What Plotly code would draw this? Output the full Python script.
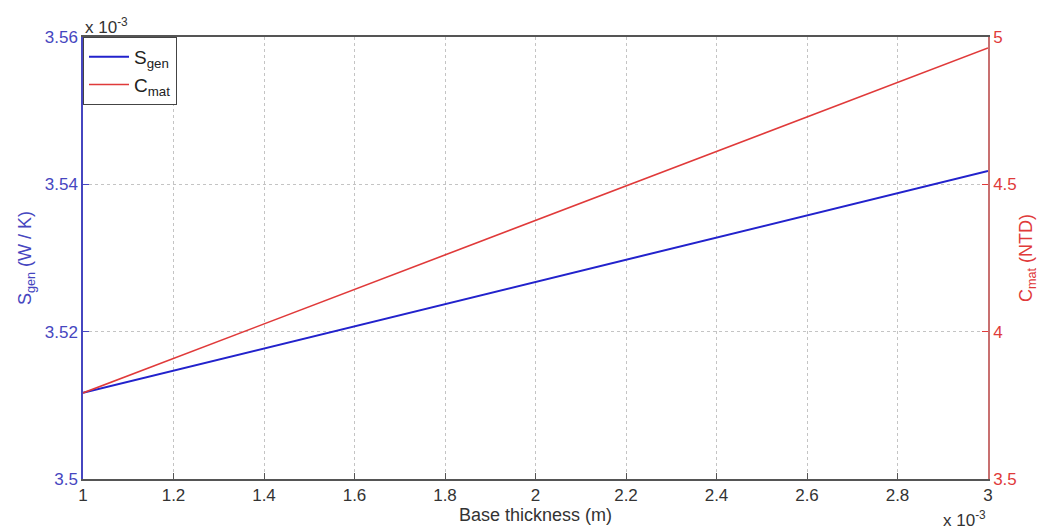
import plotly.graph_objects as go

# Data (x in units of 1e-3 m, S_gen in units of 1e-3 W/K)
thickness = [1.0, 1.2, 1.4, 1.6, 1.8, 2.0, 2.2, 2.4, 2.6, 2.8, 3.0]
s_gen = [3.5117, 3.5147, 3.5177, 3.5207, 3.5237, 3.5267, 3.5298, 3.5328, 3.5358, 3.5388, 3.5418]
c_mat = [3.792, 3.909, 4.026, 4.143, 4.260, 4.378, 4.495, 4.612, 4.729, 4.846, 4.963]

x_ticks = [1, 1.2, 1.4, 1.6, 1.8, 2, 2.2, 2.4, 2.6, 2.8, 3]
left_ticks = [3.5, 3.52, 3.54, 3.56]
right_ticks = [3.5, 4, 4.5, 5]

BLUE = "#2222cc"
BLUE_TXT = "#4646c0"
RED = "#e03a3a"
GRAY = "#555555"
FONT = "Liberation Sans, Arial, sans-serif"

fig = go.Figure()
fig.add_trace(go.Scatter(x=thickness, y=s_gen, mode="lines", name="S<sub>gen</sub>",
                         line=dict(color=BLUE, width=2), yaxis="y"))
fig.add_trace(go.Scatter(x=thickness, y=c_mat, mode="lines", name="C<sub>mat</sub>",
                         line=dict(color=RED, width=1.6), yaxis="y2"))

fig.update_layout(
    width=1045, height=530,
    margin=dict(l=83, r=52, t=37, b=51),
    paper_bgcolor="white", plot_bgcolor="white",
    font=dict(family=FONT, size=17, color="#333333"),
    showlegend=True,
    legend=dict(x=0, y=1, xanchor="left", yanchor="top",
                bgcolor="white", bordercolor="#444444", borderwidth=1,
                font=dict(size=19, color="#222222"), tracegroupgap=0,
                itemwidth=40),
    xaxis=dict(
        range=[1, 3], tickvals=x_ticks, ticktext=[f"{v:g}" for v in x_ticks],
        showgrid=True, gridcolor="#c4c4c4", griddash="dot", gridwidth=1,
        ticks="inside", ticklen=6, tickcolor=GRAY,
        showline=True, linecolor=GRAY, linewidth=1.5, mirror=True,
        zeroline=False,
        tickfont=dict(size=17, color="#333333"),
        title=dict(text="Base thickness (m)", font=dict(size=18, color="#333333"), standoff=0),
    ),
    yaxis=dict(
        range=[3.5, 3.56], tickvals=left_ticks, ticktext=["3.5", "3.52", "3.54", "3.56"],
        showgrid=True, gridcolor="#c4c4c4", griddash="dot", gridwidth=1,
        ticks="inside", ticklen=6, tickcolor=BLUE_TXT,
        showline=True, linecolor=BLUE_TXT, linewidth=1.5,
        zeroline=False,
        tickfont=dict(size=17, color=BLUE_TXT),
        title=dict(text="S<sub>gen</sub> (W / K)", font=dict(size=18, color=BLUE_TXT), standoff=8),
    ),
    yaxis2=dict(
        range=[3.5, 5], tickvals=right_ticks, ticktext=["3.5", "4", "4.5", "5"],
        overlaying="y", side="right",
        showgrid=False,
        ticks="inside", ticklen=6, tickcolor=RED,
        showline=True, linecolor="#c87070", linewidth=1.5,
        zeroline=False,
        tickfont=dict(size=17, color=RED),
        title=dict(text="C<sub>mat</sub> (NTD)", font=dict(size=18, color=RED), standoff=4),
    ),
)

fig.add_annotation(text="x 10<sup>-3</sup>", xref="paper", yref="paper", x=0, y=1,
                   xanchor="left", yanchor="bottom", showarrow=False,
                   font=dict(size=17, color="#333333"), yshift=-2)
fig.add_annotation(text="x 10<sup>-3</sup>", xref="paper", yref="paper", x=1, y=0,
                   xanchor="right", yanchor="top", showarrow=False,
                   font=dict(size=17, color="#333333"), yshift=-27, xshift=0)

fig.write_html("out.html")
